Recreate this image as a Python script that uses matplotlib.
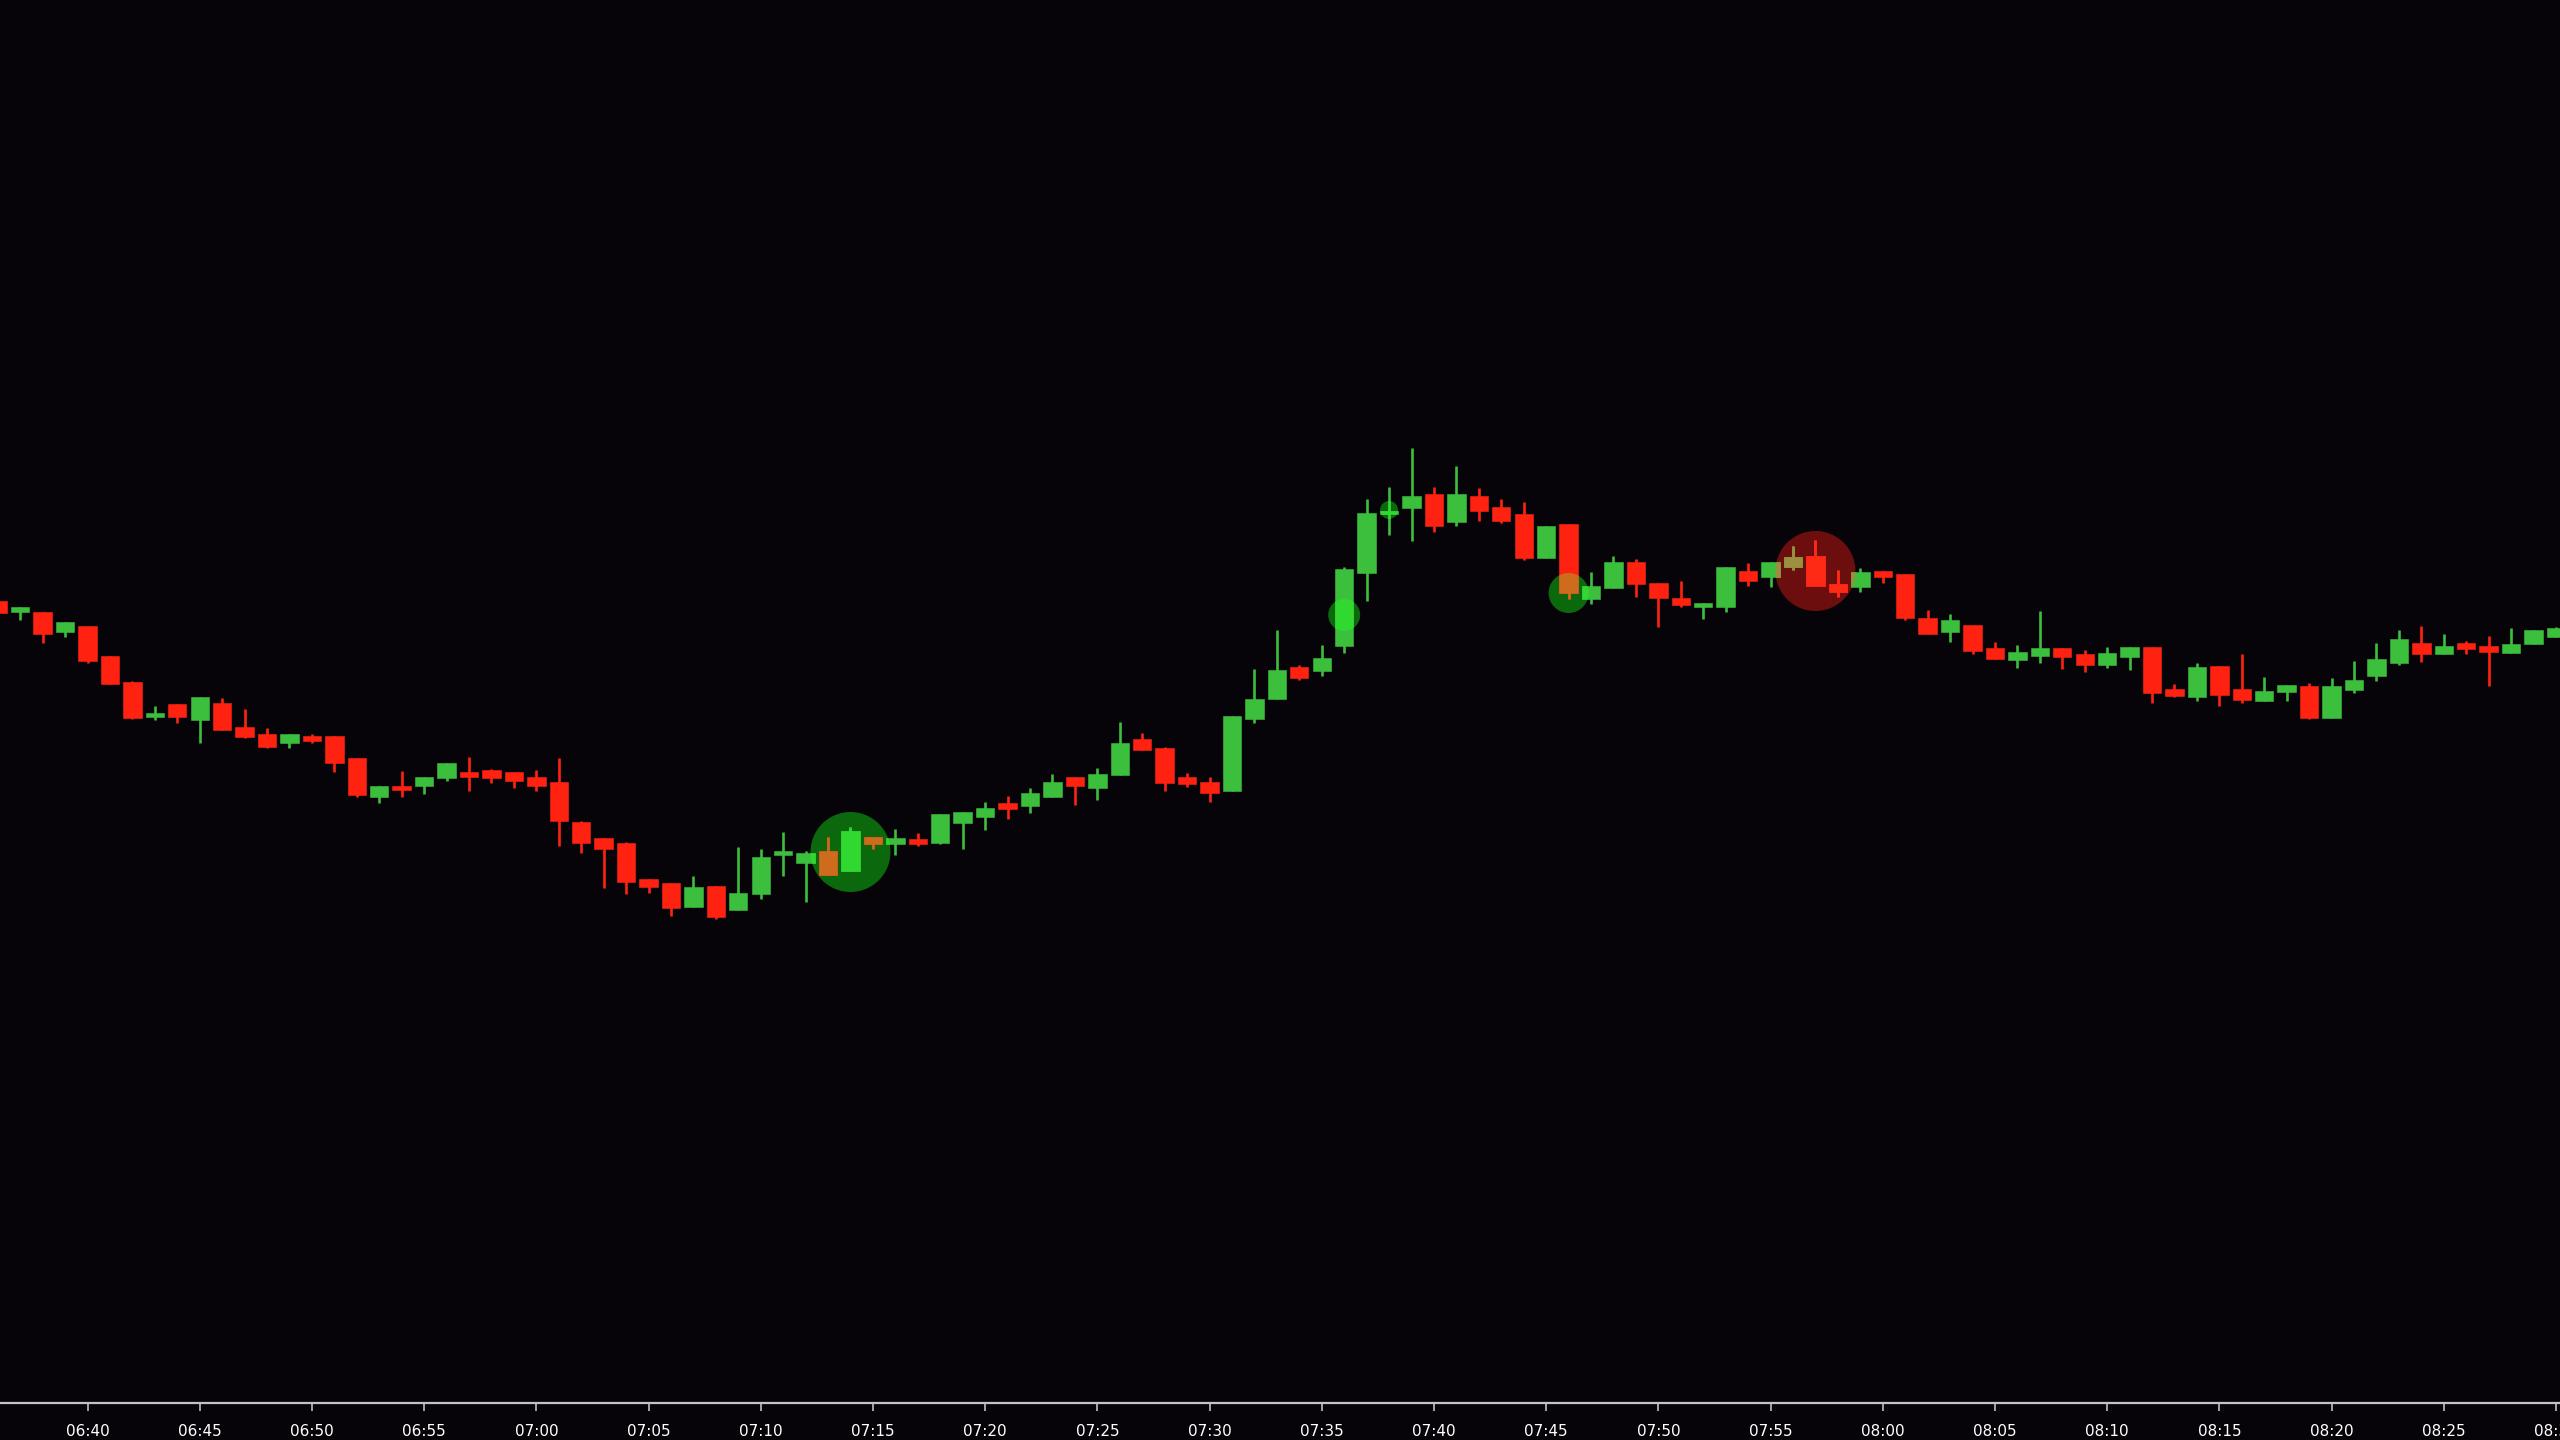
import numpy as np
import matplotlib
matplotlib.use('Agg')
import matplotlib.pyplot as plt
from matplotlib.patches import Ellipse

# 1-minute candles from 06:36, prices in chart points
start_min = 6 * 60 + 36
opens = [839, 828, 828, 808, 814, 784, 758, 723, 736, 720, 737, 713, 706, 697, 704, 704,
         682, 643, 654, 654, 662, 668, 670, 668, 663, 658, 618, 602, 597, 561, 557, 533,
         554, 530, 546, 585, 577, 589, 569, 603, 596, 601, 597, 617, 623, 637, 634, 643,
         663, 652, 665, 701, 692, 663, 658, 649, 721, 741, 773, 769, 794, 867, 926, 932,
         946, 918, 944, 933, 926, 882, 916, 841, 852, 878, 857, 842, 833, 833, 869, 863,
         873, 884, 856, 853, 869, 866, 822, 808, 815, 792, 780, 784, 792, 786, 775, 783,
         793, 751, 743, 774, 751, 739, 748, 754, 722, 750, 764, 777, 797, 786, 797, 794,
         787, 796, 803]
highs = [841, 833, 828, 818, 814, 784, 759, 734, 736, 743, 742, 731, 712, 706, 706, 704,
         682, 654, 669, 663, 677, 683, 671, 668, 670, 682, 619, 602, 598, 561, 557, 564,
         554, 593, 591, 608, 589, 603, 613, 603, 611, 607, 626, 628, 638, 644, 652, 666,
         663, 672, 718, 707, 693, 667, 663, 724, 771, 810, 775, 795, 873, 941, 953, 992,
         953, 974, 952, 941, 938, 914, 916, 868, 884, 881, 857, 859, 837, 873, 877, 878,
         894, 900, 870, 872, 869, 866, 830, 826, 815, 798, 795, 829, 792, 790, 793, 793,
         793, 756, 777, 774, 786, 763, 755, 757, 762, 779, 797, 810, 814, 806, 799, 804,
         812, 810, 813]
lows = [825, 820, 797, 803, 777, 756, 721, 720, 717, 697, 710, 702, 692, 692, 697, 668,
        643, 637, 643, 646, 659, 649, 657, 652, 649, 594, 587, 552, 546, 547, 524, 533,
        521, 530, 541, 564, 538, 565, 569, 591, 585, 594, 596, 591, 610, 621, 627, 643,
        635, 640, 665, 690, 649, 653, 638, 649, 717, 741, 760, 764, 787, 839, 905, 899,
        908, 914, 919, 917, 880, 882, 841, 836, 852, 843, 813, 833, 821, 828, 854, 853,
        870, 854, 843, 848, 857, 820, 806, 798, 786, 781, 772, 777, 771, 768, 772, 770,
        737, 743, 739, 734, 737, 739, 739, 721, 722, 747, 759, 775, 778, 786, 786, 754,
        787, 796, 803]
closes = [827, 833, 806, 818, 779, 756, 722, 727, 723, 743, 710, 703, 693, 706, 699, 677,
          645, 654, 650, 663, 677, 663, 662, 659, 654, 619, 597, 591, 558, 553, 532, 553,
          523, 547, 583, 589, 587, 565, 609, 596, 602, 596, 626, 628, 632, 631, 647, 658,
          654, 666, 697, 690, 657, 656, 647, 724, 741, 770, 762, 782, 871, 927, 929, 944,
          914, 946, 929, 919, 882, 914, 847, 854, 878, 856, 842, 835, 837, 873, 859, 878,
          883, 854, 848, 868, 863, 822, 806, 820, 789, 781, 788, 792, 783, 775, 787, 793,
          747, 744, 773, 745, 740, 749, 755, 722, 754, 760, 781, 801, 786, 794, 791, 788,
          796, 810, 812]

# signal circles: minute, price, radius (px), kind
sig_min = [7 * 60 + 14, 7 * 60 + 57, 7 * 60 + 36, 7 * 60 + 38, 7 * 60 + 46]
sig_price = [588, 869, 825, 930, 847]
sig_radius = [40, 40, 16, 9, 20]
sig_kind = ['buy', 'sell', 'buy', 'buy', 'buy']

BG = '#060409'
UP = '#3cbf3c'
DOWN = '#ff2211'
circle_face = {'buy': '#0c680c', 'sell': '#6c0e0e'}
tint = {'buy': {'up': '#30d830', 'down': '#cc6c1c'},
        'sell': {'up': '#9c9040', 'down': '#ff2a16'}}

o = np.array(opens)
h = np.array(highs)
l = np.array(lows)
c = np.array(closes)
t = start_min + np.arange(len(o))
up = c >= o

W, H = 2560, 1440
fig = plt.figure(figsize=(W / 100, H / 100), dpi=100, facecolor=BG)
ax = fig.add_axes([0, 37 / H, 1, 1403 / H], facecolor=BG)
ax.set_xlim(396.10, 510.18)
ax.set_ylim(37, 1440)

px_per_min = W / (510.18 - 396.10)
px_per_pt = 1403 / (1440 - 37)


def draw_candles(mask, up_col, down_col, z, clip=None):
    cols = np.where(up, up_col, down_col)[mask]
    body_lo = np.minimum(o, c)[mask]
    body_h = np.maximum(np.abs(c - o)[mask], 2)
    wl = ax.vlines(t[mask], l[mask], h[mask], colors=cols, linewidth=1.9, zorder=z)
    bars = ax.bar(t[mask], body_h, bottom=body_lo, width=0.82, color=cols,
                  edgecolor=cols, linewidth=0.4, zorder=z + 1)
    if clip is not None:
        wl.set_clip_path(clip)
        for b in bars:
            b.set_clip_path(clip)


draw_candles(np.ones(len(o), bool), UP, DOWN, 2)

for m, p, r, k in zip(sig_min, sig_price, sig_radius, sig_kind):
    e = Ellipse((m, p), 2 * r / px_per_min, 2 * r / px_per_pt,
                facecolor=circle_face[k], edgecolor='none', zorder=1)
    ax.add_patch(e)
    near = np.abs(t - m) <= 3
    draw_candles(near, tint[k]['up'], tint[k]['down'], 4, clip=e)

ticks = list(range(6 * 60 + 40, 8 * 60 + 31, 5))
ax.set_xticks(ticks)
ax.set_xticklabels(['%02d:%02d' % (m // 60, m % 60) for m in ticks])
ax.set_yticks([])
for side in ['top', 'left', 'right']:
    ax.spines[side].set_visible(False)
ax.spines['bottom'].set_color('#c4c4c4')
ax.spines['bottom'].set_linewidth(1.6)
ax.tick_params(axis='x', colors='#d0d0d0', length=6, width=1.1, pad=9,
               labelsize=11, labelcolor='white')

fig.savefig('out.png', dpi=100, facecolor=BG)
